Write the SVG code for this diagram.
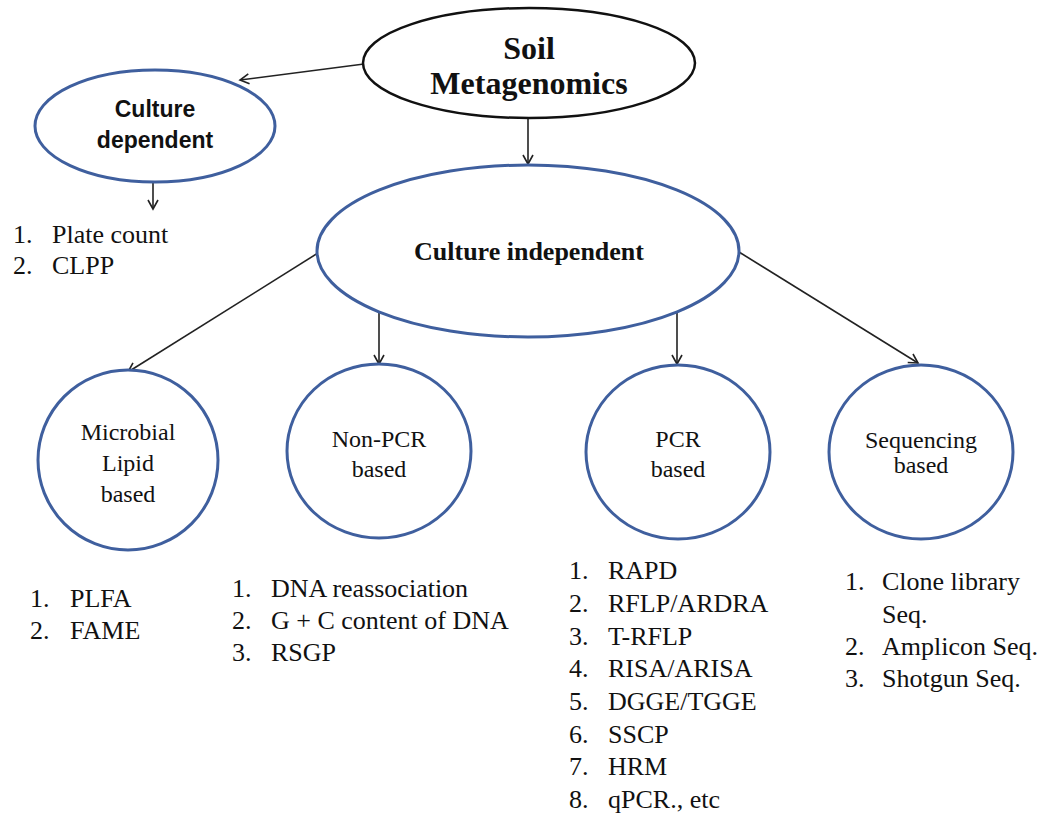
<svg xmlns="http://www.w3.org/2000/svg" width="1049" height="817" viewBox="0 0 1049 817">
  <defs>
    <marker id="arr" markerUnits="userSpaceOnUse" markerWidth="14" markerHeight="14" refX="10" refY="6" orient="auto">
      <path d="M1,1 L10,6 L1,11" fill="none" stroke="#222" stroke-width="1.6"/>
    </marker>
    <style>
      .blue { fill: #fff; stroke: #3f5f9e; stroke-width: 3; }
      .black { fill: #fff; stroke: #111; stroke-width: 2.5; }
      .conn line { stroke: #222; stroke-width: 1.6; marker-end: url(#arr); }
      .tb { font-family: "Liberation Serif", "Times New Roman", serif; font-weight: bold; fill: #111; text-anchor: middle; }
      .sb { font-family: "Liberation Sans", Arial, sans-serif; font-weight: bold; fill: #111; text-anchor: middle; }
      .t { font-family: "Liberation Serif", "Times New Roman", serif; fill: #111; text-anchor: middle; font-size: 24px; }
      .li { font-family: "Liberation Serif", "Times New Roman", serif; fill: #111; font-size: 26px; }
    </style>
  </defs>
  <rect width="1049" height="817" fill="#fff"/>

  <g id="connectors" class="conn">
    <line x1="364" y1="64" x2="240" y2="80"/>
    <line x1="528" y1="118" x2="528" y2="164"/>
    <line x1="153" y1="183" x2="153" y2="209"/>
    <line x1="318" y1="253" x2="128" y2="372"/>
    <line x1="379" y1="312" x2="379" y2="364"/>
    <line x1="677" y1="312" x2="677" y2="364"/>
    <line x1="739" y1="252" x2="918" y2="363"/>
  </g>

  <g id="soil">
    <ellipse class="black" cx="529" cy="63" rx="166" ry="55"/>
    <text class="tb" x="529" y="59" font-size="32">Soil</text>
    <text class="tb" x="529" y="94" font-size="32">Metagenomics</text>
  </g>

  <g id="culture-dependent">
    <ellipse class="blue" cx="155" cy="126" rx="120" ry="56"/>
    <text class="sb" x="155" y="117" font-size="23">Culture</text>
    <text class="sb" x="155" y="148" font-size="23">dependent</text>
  </g>

  <g id="culture-dependent-list" class="li">
    <text x="13" y="243">1.</text><text x="52" y="243">Plate count</text>
    <text x="13" y="274">2.</text><text x="52" y="274">CLPP</text>
  </g>

  <g id="culture-independent">
    <ellipse class="blue" cx="528" cy="251" rx="211" ry="86"/>
    <text class="tb" x="529" y="260" font-size="26">Culture independent</text>
  </g>

  <g id="microbial-lipid">
    <circle class="blue" cx="128" cy="460" r="90"/>
    <text class="t" x="128" y="440">Microbial</text>
    <text class="t" x="128" y="471">Lipid</text>
    <text class="t" x="128" y="502">based</text>
  </g>

  <g id="non-pcr">
    <ellipse class="blue" cx="379" cy="451" rx="92" ry="87"/>
    <text class="t" x="379" y="447">Non-PCR</text>
    <text class="t" x="379" y="477">based</text>
  </g>

  <g id="pcr">
    <ellipse class="blue" cx="678" cy="452" rx="92" ry="87"/>
    <text class="t" x="678" y="447">PCR</text>
    <text class="t" x="678" y="477">based</text>
  </g>

  <g id="sequencing">
    <ellipse class="blue" cx="921" cy="452" rx="92" ry="87"/>
    <text class="t" x="921" y="448" font-size="22">Sequencing</text>
    <text class="t" x="921" y="473" font-size="22">based</text>
  </g>

  <g id="lipid-list" class="li">
    <text x="30" y="607">1.</text><text x="70" y="607">PLFA</text>
    <text x="30" y="639">2.</text><text x="70" y="639">FAME</text>
  </g>

  <g id="non-pcr-list" class="li">
    <text x="232" y="597">1.</text><text x="271" y="597">DNA reassociation</text>
    <text x="232" y="629">2.</text><text x="271" y="629">G + C content of DNA</text>
    <text x="232" y="661">3.</text><text x="271" y="661">RSGP</text>
  </g>

  <g id="pcr-list" class="li">
    <text x="569" y="579">1.</text><text x="608" y="579">RAPD</text>
    <text x="569" y="612">2.</text><text x="608" y="612">RFLP/ARDRA</text>
    <text x="569" y="645">3.</text><text x="608" y="645">T-RFLP</text>
    <text x="569" y="677">4.</text><text x="608" y="677">RISA/ARISA</text>
    <text x="569" y="710">5.</text><text x="608" y="710">DGGE/TGGE</text>
    <text x="569" y="743">6.</text><text x="608" y="743">SSCP</text>
    <text x="569" y="775">7.</text><text x="608" y="775">HRM</text>
    <text x="569" y="808">8.</text><text x="608" y="808">qPCR., etc</text>
  </g>

  <g id="sequencing-list" class="li">
    <text x="845" y="590">1.</text><text x="882" y="590">Clone library</text>
    <text x="882" y="623">Seq.</text>
    <text x="845" y="655">2.</text><text x="882" y="655">Amplicon Seq.</text>
    <text x="845" y="687">3.</text><text x="882" y="687">Shotgun Seq.</text>
  </g>
</svg>
